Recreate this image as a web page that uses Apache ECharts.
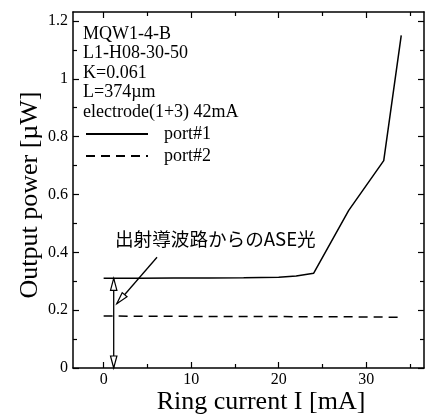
<!DOCTYPE html>
<html>
<head>
<meta charset="utf-8">
<script src="https://cdn.jsdelivr.net/npm/echarts@6/dist/echarts.min.js"></script>
<style>
html,body{margin:0;padding:0;background:#fff;}
#main{width:425px;height:416px;}
</style>
</head>
<body>
<div id="main"></div>
<script>
// ---- data ----
const port1Current = [0, 4, 8, 12, 16, 20, 22, 24, 28, 32, 34];
const port1Power   = [0.31, 0.31, 0.311, 0.311, 0.312, 0.314, 0.318, 0.328, 0.545, 0.717, 1.15];
const port2Current = [0, 4, 8, 12, 16, 20, 24, 28, 32, 34];
const port2Power   = [0.18, 0.179, 0.179, 0.178, 0.178, 0.178, 0.177, 0.177, 0.176, 0.175];
const seriesNames  = ['port#1', 'port#2'];
const xMajorTicks  = [0, 10, 20, 30];
const xMinorTicks  = [5, 15, 25, 35];
const yMajorTicks  = [0, 0.2, 0.4, 0.6, 0.8, 1, 1.2];
const yMinorTicks  = [0.1, 0.3, 0.5, 0.7, 0.9, 1.1];
const infoLines    = ['MQW1-4-B', 'L1-H08-30-50', 'K=0.061', 'L=374\u00b5m', 'electrode(1+3) 42mA'];
const xTitle = 'Ring current I [mA]';
const yTitle = 'Output power [\u00b5W]';
const noteText = '出射導波路からのASE光';
// annotation arrows in data units: [x1, y1, x2, y2, headAtStart, headAtEnd]
const arrows = [
  [1.15, 0, 1.15, 0.31, 1, 1],
  [6.1, 0.383, 1.5, 0.222, 0, 1]
];

const serif = 'Liberation Serif';
const chart = echarts.init(document.getElementById('main'), null, {renderer: 'canvas'});

const X_MIN = -3.5, X_MAX = 36.6, Y_MIN = 0, Y_MAX = 1.231;
const lineW = 1.5;

function xAx(pos, ticks, len, showLine, labels) {
  return {
    type: 'value', position: pos, min: X_MIN, max: X_MAX,
    axisLine: {show: showLine, onZero: false, lineStyle: {color: '#000', width: lineW}},
    axisTick: {show: true, inside: true, length: len, customValues: ticks, lineStyle: {color: '#000', width: 1.2}},
    axisLabel: labels ? {show: true, customValues: ticks, margin: 4, color: '#000', fontFamily: serif, fontSize: 16} : {show: false},
    splitLine: {show: false}
  };
}
function yAx(pos, ticks, len, showLine, labels) {
  return {
    type: 'value', position: pos, min: Y_MIN, max: Y_MAX,
    axisLine: {show: showLine, onZero: false, lineStyle: {color: '#000', width: lineW}},
    axisTick: {show: true, inside: true, length: len, customValues: ticks, lineStyle: {color: '#000', width: 1.2}},
    axisLabel: labels ? {show: true, customValues: ticks, margin: 5, color: '#000', fontFamily: serif, fontSize: 16} : {show: false},
    splitLine: {show: false}
  };
}

function arrowHead(tip, from, len, half) {
  const dx = tip[0] - from[0], dy = tip[1] - from[1];
  const d = Math.sqrt(dx * dx + dy * dy) || 1;
  const ux = dx / d, uy = dy / d;
  const bx = tip[0] - ux * len, by = tip[1] - uy * len;
  return {
    type: 'polygon',
    shape: {points: [tip, [bx - uy * half, by + ux * half], [bx + uy * half, by - ux * half]]},
    style: {fill: '#fff', stroke: '#000', lineWidth: 1.2}
  };
}

const option = {
  animation: false,
  backgroundColor: '#fff',
  grid: {left: 73, right: 1, top: 12, bottom: 48},
  xAxis: [
    xAx('bottom', xMajorTicks, 6, true, true),
    xAx('bottom', xMinorTicks, 4, false, false),
    xAx('top', xMajorTicks, 6, true, false),
    xAx('top', xMinorTicks, 4, false, false)
  ],
  yAxis: [
    yAx('left', yMajorTicks, 6, true, true),
    yAx('left', yMinorTicks, 4, false, false),
    yAx('right', yMajorTicks, 6, true, false),
    yAx('right', yMinorTicks, 4, false, false)
  ],
  legend: {
    orient: 'vertical', left: 85, top: 125, padding: 0,
    itemWidth: 62, itemHeight: 14, itemGap: 4,
    data: seriesNames,
    itemStyle: {opacity: 0},
    textStyle: {fontFamily: serif, fontSize: 18, color: '#000', padding: [0, 0, 0, 11]}
  },
  series: [
    {
      name: seriesNames[0], type: 'line', xAxisIndex: 0, yAxisIndex: 0,
      data: port1Current.map((x, i) => [x, port1Power[i]]),
      symbol: 'none', showSymbol: false,
      lineStyle: {color: '#000', width: lineW}, itemStyle: {color: '#000'}
    },
    {
      name: seriesNames[1], type: 'line', xAxisIndex: 0, yAxisIndex: 0,
      data: port2Current.map((x, i) => [x, port2Power[i]]),
      symbol: 'none', showSymbol: false,
      lineStyle: {color: '#000', width: lineW, type: [9, 6]}, itemStyle: {color: '#000'}
    },
    {
      type: 'custom', xAxisIndex: 0, yAxisIndex: 0, clip: false, silent: true,
      data: arrows,
      encode: {x: [0, 2], y: [1, 3]},
      renderItem: function (params, api) {
        const p1 = api.coord([api.value(0), api.value(1)]);
        const p2 = api.coord([api.value(2), api.value(3)]);
        const children = [{
          type: 'line', shape: {x1: p1[0], y1: p1[1], x2: p2[0], y2: p2[1]},
          style: {stroke: '#000', lineWidth: 1.3}
        }];
        if (api.value(4)) children.push(arrowHead(p1, p2, 12, 3.2));
        if (api.value(5)) children.push(arrowHead(p2, p1, 12, 3.2));
        return {type: 'group', children: children};
      }
    }
  ],
  graphic: [
    {
      type: 'text', left: 83, top: 24, silent: true,
      style: {text: infoLines.join('\n'), fontFamily: serif, fontSize: 18, lineHeight: 19.6, fill: '#000'}
    },
    {
      type: 'text', left: 115, top: 230, silent: true,
      style: {text: noteText, fontFamily: 'Noto Sans CJK JP', fontSize: 18.6, fill: '#000'}
    },
    {
      type: 'text', x: 261, y: 402, silent: true,
      style: {text: xTitle, fontFamily: serif, fontSize: 26, fill: '#000', align: 'center', verticalAlign: 'middle'}
    },
    {
      type: 'text', x: 30, y: 195, rotation: Math.PI / 2, silent: true,
      style: {text: yTitle, fontFamily: serif, fontSize: 26, fill: '#000', align: 'center', verticalAlign: 'middle'}
    }
  ]
};
chart.setOption(option);
</script>
</body>
</html>
